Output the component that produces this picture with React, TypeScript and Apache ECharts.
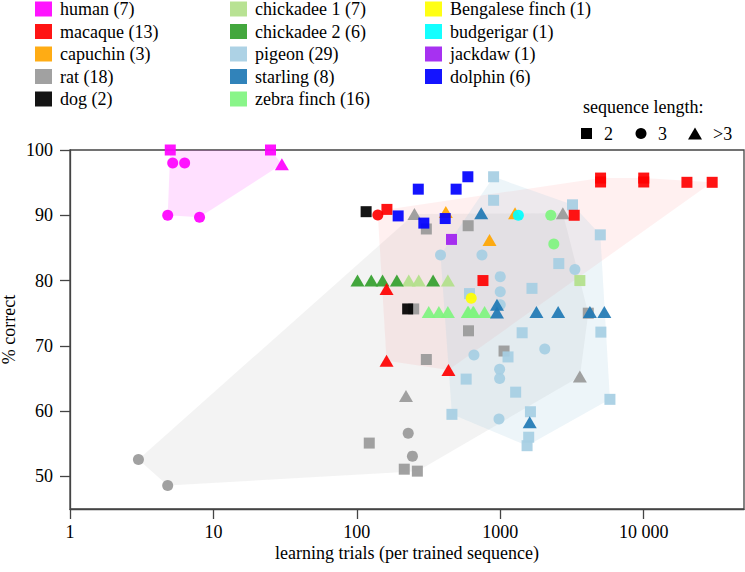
import React, { useEffect, useRef } from "react";
import * as echarts from "echarts";

type Pt = [number, number, number]; // [learning trials, % correct, sequence length code: 2, 3, 4 (>3)]

const human: Pt[] = [[5, 100, 2], [5.2, 98, 3], [6.3, 98, 3], [4.8, 90, 3], [8, 89.7, 3], [25, 100, 2], [30, 97.8, 4]];
const macaque: Pt[] = [
  [162, 90.9, 2], [140, 90.05, 3], [161, 78.7, 4], [161, 67.7, 4], [435, 66.3, 4], [757, 80, 2], [3275, 90, 2],
  [5000, 95.7, 2], [5000, 95.1, 2], [10000, 95.7, 2], [10000, 95.1, 2], [20000, 95.05, 2], [30000, 95.05, 2],
];
const capuchin: Pt[] = [[417, 90.5, 4], [841, 86.2, 4], [1267, 90.3, 4]];
const rat: Pt[] = [
  [252, 90.2, 4], [305, 87.9, 2], [597, 88.4, 2], [2729, 90.3, 4], [249, 75.65, 2], [600, 72.3, 2],
  [305, 67.9, 2], [1062, 69.2, 2], [4105, 75, 2], [3586, 65.3, 4], [220, 62.3, 4], [122, 55.1, 2],
  [228, 56.6, 3], [244, 53.1, 3], [214, 51.1, 2], [264, 50.8, 2], [3, 52.6, 3], [4.8, 48.6, 3],
];
const dog: Pt[] = [[116, 90.55, 2], [226, 75.65, 2]];
const chickadee1: Pt[] = [[230, 80, 4], [270, 80, 4], [431, 80, 4], [3586, 80, 2]];
const chickadee2: Pt[] = [[101, 80, 4], [126, 80, 4], [151, 80, 4], [190, 80, 4], [340, 80, 4]];
const pigeon: Pt[] = [
  [383, 83.9, 3], [745, 83.9, 3], [898, 95.9, 2], [898, 92.3, 2], [3186, 91.6, 2], [4980, 87, 2],
  [2557, 82.6, 2], [3311, 81.7, 3], [999, 80.6, 3], [999, 78.3, 3], [999, 76.3, 3], [1663, 78.8, 2],
  [610, 78, 2], [1420, 72, 2], [5025, 72.1, 2], [2042, 69.5, 3], [655, 68.6, 3], [1132, 68.3, 2],
  [989, 66.4, 3], [989, 65.0, 3], [578, 64.9, 2], [1279, 62.9, 2], [460, 59.5, 2], [979, 58.8, 3],
  [5812, 61.8, 2], [1622, 59.9, 2], [1577, 56.0, 2], [1537, 54.7, 2],
];
const starling: Pt[] = [
  [736, 90.3, 4], [948, 76.3, 4], [948, 75.1, 4], [1786, 75.2, 4], [2531, 75.2, 4], [4213, 75.2, 4],
  [5312, 75.2, 4], [1603, 58.3, 4],
];
const zebraFinch: Pt[] = [
  [2249, 90, 3], [2360, 85.6, 3], [317, 75.2, 4], [373, 75.2, 4], [431, 75.2, 4], [593, 75.2, 4],
  [600, 75.2, 4], [645, 75.2, 4], [652, 75.2, 4], [777, 75.2, 4],
];
const bengalese: Pt[] = [[627, 77.3, 3]];
const budgerigar: Pt[] = [[1336, 90, 3]];
const jackdaw: Pt[] = [[457, 86.3, 2]];
const dolphin: Pt[] = [[194, 89.9, 2], [293, 88.8, 2], [413, 89.5, 2], [268, 94, 2], [492, 94, 2], [594, 95.9, 2]];

const xTicks = [1, 10, 100, 1000, 10000];
const yTicks = [50, 60, 70, 80, 90, 100];

type Species = { name: string; data: Pt[]; color: string; hull?: number };
const species: Species[] = [
  { name: "human (7)", data: human, color: "#ff00ff", hull: 0.12 },
  { name: "macaque (13)", data: macaque, color: "#ff0000", hull: 0.06 },
  { name: "capuchin (3)", data: capuchin, color: "#ffa500" },
  { name: "rat (18)", data: rat, color: "#999999", hull: 0.12 },
  { name: "dog (2)", data: dog, color: "#000000" },
  { name: "chickadee 1 (7)", data: chickadee1, color: "#b2df8a" },
  { name: "chickadee 2 (6)", data: chickadee2, color: "#33a02c" },
  { name: "pigeon (29)", data: pigeon, color: "#a6cee3", hull: 0.2 },
  { name: "starling (8)", data: starling, color: "#1f78b4" },
  { name: "zebra finch (16)", data: zebraFinch, color: "#7ff47f" },
  { name: "Bengalese finch (1)", data: bengalese, color: "#ffff00" },
  { name: "budgerigar (1)", data: budgerigar, color: "#00ffff" },
  { name: "jackdaw (1)", data: jackdaw, color: "#a020f0" },
  { name: "dolphin (6)", data: dolphin, color: "#0000ff" },
];
const drawOrder = [
  "rat (18)", "pigeon (29)", "chickadee 1 (7)", "chickadee 2 (6)", "zebra finch (16)", "capuchin (3)",
  "macaque (13)", "human (7)", "dog (2)", "starling (8)", "jackdaw (1)", "budgerigar (1)",
  "Bengalese finch (1)", "dolphin (6)",
];

const FONT = "Liberation Serif";

function convexHull(pts: Pt[]): [number, number][] {
  const p = pts
    .map((d) => [Math.log10(d[0]), d[1] / 10, d[0], d[1]])
    .sort((a, b) => a[0] - b[0] || a[1] - b[1]);
  const cross = (o: number[], a: number[], b: number[]) => (a[0] - o[0]) * (b[1] - o[1]) - (a[1] - o[1]) * (b[0] - o[0]);
  const lower: number[][] = [];
  for (const q of p) {
    while (lower.length >= 2 && cross(lower[lower.length - 2], lower[lower.length - 1], q) <= 0) lower.pop();
    lower.push(q);
  }
  const upper: number[][] = [];
  for (let i = p.length - 1; i >= 0; i--) {
    const q = p[i];
    while (upper.length >= 2 && cross(upper[upper.length - 2], upper[upper.length - 1], q) <= 0) upper.pop();
    upper.push(q);
  }
  const h = lower.slice(0, -1).concat(upper.slice(0, -1));
  return h.map((q) => [q[2], q[3]]);
}

const symbolFor = (len: number) => (len === 2 ? "rect" : len === 3 ? "circle" : "triangle");
const sizeFor = (len: number) => (len === 2 ? [11, 11] : len === 3 ? [11, 11] : [14, 12]);

export default function App() {
  const ref = useRef<HTMLDivElement>(null);
  useEffect(() => {
    if (!ref.current) return;
    const chart = echarts.init(ref.current, undefined, { renderer: "svg" });

    const hullSeries = species
      .filter((s) => s.hull)
      .map((s) => ({
        type: "custom",
        name: s.name + " hull",
        z: 1,
        silent: true,
        data: convexHull(s.data),
        encode: { x: 0, y: 1 },
        renderItem: (params: any, api: any) => {
          if (params.dataIndex !== 0) return null;
          const pts = convexHull(s.data).map((d) => api.coord(d));
          return {
            type: "polygon",
            shape: { points: pts },
            style: { fill: s.color, opacity: s.hull, stroke: "none" },
          };
        },
      }));

    const scatterSeries = drawOrder.map((n) => {
      const s = species.find((q) => q.name === n)!;
      return {
        type: "scatter",
        name: s.name,
        z: 3,
        itemStyle: { color: s.color, opacity: 0.92 },
        data: s.data.map((d) => ({
          value: [d[0], d[1]],
          symbol: symbolFor(d[2]),
          symbolSize: sizeFor(d[2]),
        })),
      };
    });

    const legendBase = {
      orient: "vertical",
      icon: "rect",
      itemWidth: 17,
      itemHeight: 15,
      itemGap: 4.5,
      padding: 0,
      selectedMode: false,
      top: 0,
      textStyle: { fontSize: 18, fontFamily: FONT, color: "#000", lineHeight: 18, padding: [0, 0, 0, 3] },
    };

    const txt = (text: string, x: number, y: number) => ({
      type: "text",
      x,
      y,
      style: { text, fontSize: 18, fontFamily: FONT, fill: "#000", verticalAlign: "middle" },
    });

    chart.setOption({
      animation: false,
      backgroundColor: "#fff",
      textStyle: { fontFamily: FONT },
      grid: {
        left: 70,
        right: 1,
        top: 150,
        bottom: 63,
        outerBoundsMode: "none",
        containLabel: false,
        show: true,
        borderColor: "#444",
        borderWidth: 1.3,
        backgroundColor: "transparent",
      },
      legend: [
        { ...legendBase, left: 35, data: species.slice(0, 5).map((s) => s.name) },
        { ...legendBase, left: 230, data: species.slice(5, 10).map((s) => s.name) },
        { ...legendBase, left: 425, data: species.slice(10, 14).map((s) => s.name) },
      ],
      xAxis: {
        type: "log",
        logBase: 10,
        min: 1,
        max: 50000,
        name: "learning trials (per trained sequence)",
        nameLocation: "middle",
        nameGap: 35,
        nameMoveOverlap: false,
        nameTextStyle: { fontSize: 18, fontFamily: FONT, color: "#000" },
        axisLine: { lineStyle: { color: "#444", width: 1.3 } },
        axisTick: { length: 10, customValues: xTicks, lineStyle: { color: "#444", width: 1.3 } },
        axisLabel: {
          customValues: xTicks,
          margin: 14,
          fontSize: 18,
          fontFamily: FONT,
          color: "#000",
          formatter: (v: number) => (v >= 10000 ? String(v).replace(/(\d)(?=(\d{3})+$)/g, "$1 ") : String(v)),
        },
        splitLine: { show: false },
        minorTick: { show: false },
      },
      yAxis: {
        type: "value",
        min: 45,
        max: 100,
        name: "% correct",
        nameLocation: "middle",
        nameGap: 52,
        nameMoveOverlap: false,
        nameTextStyle: { fontSize: 18, fontFamily: FONT, color: "#000" },
        axisLine: { show: true, lineStyle: { color: "#444", width: 1.3 } },
        axisTick: { show: true, length: 10, customValues: yTicks, lineStyle: { color: "#444", width: 1.3 } },
        axisLabel: { customValues: yTicks, margin: 17, fontSize: 18, fontFamily: FONT, color: "#000" },
        splitLine: { show: false },
      },
      graphic: [
        txt("sequence length:", 583, 107),
        { type: "rect", shape: { x: 581, y: 128, width: 11, height: 11 }, style: { fill: "#000" } },
        txt("2", 604, 134),
        { type: "circle", shape: { cx: 641, cy: 133.5, r: 5.5 }, style: { fill: "#000" } },
        txt("3", 658, 134),
        { type: "polygon", shape: { points: [[688, 139.5], [702, 139.5], [695, 127.5]] }, style: { fill: "#000" } },
        txt(">3", 713, 134),
      ],
      series: [...hullSeries, ...scatterSeries],
    });

    return () => chart.dispose();
  }, []);

  return <div ref={ref} style={{ position: "fixed", left: 0, top: 0, width: 745, height: 572 }} />;
}
